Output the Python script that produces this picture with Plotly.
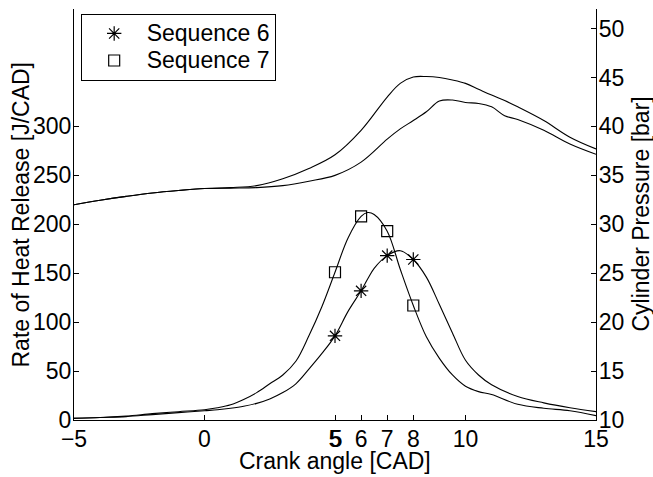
import plotly.graph_objects as go

# Crank angle grids [CAD]
cad_hrr = [-5, -4, -3, -2, -1, 0, 0.5, 1, 1.5, 2, 2.5, 3, 3.5, 4, 4.5, 5, 5.5, 6,
           6.25, 6.5, 7, 7.5, 8, 8.5, 9, 9.5, 10, 10.5, 11, 12, 13, 14, 15]
cad_p = [-5, -4, -3, -2, -1, 0, 1, 2, 3, 4, 5, 6, 7, 7.5, 8, 8.5, 9, 9.5, 10,
         10.5, 11, 11.5, 12, 13, 14, 15]

# Rate of heat release [J/CAD]
hrr_seq6 = [1.5, 2.5, 3.5, 5.5, 7.5, 9.5, 10.5, 12, 14, 17, 21.5, 28, 37, 52, 68, 86,
            111, 132, 144, 155, 168, 173, 164, 146, 118, 89, 61, 46, 36, 24, 17.5, 12.5, 8.5]
hrr_seq7 = [2, 2.5, 4, 6.5, 8.5, 10.5, 12.5, 15.5, 21, 28, 37, 46, 60, 86, 116, 151,
            186, 208, 212, 210, 193, 154, 117, 85, 63, 46, 34.5, 29, 26, 16, 12, 9.5, 4.5]

# Cylinder pressure [bar]
p_seq6 = [32.0, 32.45, 32.85, 33.2, 33.45, 33.65, 33.7, 33.75, 33.95, 34.4, 35.0, 36.35,
          38.7, 39.75, 40.6, 41.5, 42.6, 42.7, 42.45, 42.35, 42.0, 41.1, 40.7, 39.6, 38.2, 37.15]
p_seq7 = [32.0, 32.45, 32.85, 33.2, 33.45, 33.65, 33.75, 33.95, 34.65, 35.7, 37.1, 39.6,
          43.0, 44.4, 45.05, 45.1, 45.0, 44.75, 44.4, 43.8, 43.2, 42.65, 42.0, 40.6, 38.9, 37.7]

# Marker positions on the heat release curves
mark_cad = [5, 6, 7, 8]
mark_seq6 = [86, 132, 168, 164]
mark_seq7 = [151, 208, 193, 117]

FAMILY = "Liberation Sans, Arial, Helvetica, sans-serif"
FONT = dict(family=FAMILY, size=23, color="black")
LINE = dict(color="black", width=1.1)


def legend_label(txt):
    # full-size text inside a legend whose row height follows a smaller font
    return "<span style='font-size:23px'>" + txt + "</span>"


fig = go.Figure()

fig.add_trace(go.Scatter(x=cad_hrr, y=hrr_seq6, mode="lines", line=LINE,
                         line_shape="spline", showlegend=False, hoverinfo="skip"))
fig.add_trace(go.Scatter(x=cad_hrr, y=hrr_seq7, mode="lines", line=LINE,
                         line_shape="spline", showlegend=False, hoverinfo="skip"))
fig.add_trace(go.Scatter(x=cad_p, y=p_seq6, mode="lines", line=LINE, yaxis="y2",
                         line_shape="spline", showlegend=False, hoverinfo="skip"))
fig.add_trace(go.Scatter(x=cad_p, y=p_seq7, mode="lines", line=LINE, yaxis="y2",
                         line_shape="spline", showlegend=False, hoverinfo="skip"))

fig.add_trace(go.Scatter(x=mark_cad, y=mark_seq6, mode="markers",
                         name=legend_label("Sequence 6"),
                         marker=dict(symbol="asterisk-open", size=12, color="black",
                                     line=dict(color="black", width=1.2))))
fig.add_trace(go.Scatter(x=mark_cad, y=mark_seq7, mode="markers",
                         name=legend_label("Sequence 7"),
                         marker=dict(symbol="square-open", size=11, color="black",
                                     line=dict(color="black", width=1.2))))

# helper trace that keeps the secondary bottom axis alive
fig.add_trace(go.Scatter(x=[], y=[], xaxis="x3", showlegend=False, hoverinfo="skip"))

axis_common = dict(showgrid=False, zeroline=False, showline=True, linecolor="black",
                   linewidth=1.2, ticks="inside", ticklen=5, tickcolor="black",
                   tickwidth=1, tickfont=FONT)

fig.update_layout(
    width=653, height=477,
    margin=dict(l=74, r=57, t=9, b=57),
    paper_bgcolor="white", plot_bgcolor="white",
    font=FONT,
    xaxis=dict(range=[-5, 15], tickvals=[-5, 0, 5, 6, 7, 8, 10, 15],
               ticktext=["\u22125", "0", "5", "6", "7", "8", "10", "15"],
               mirror=False, ticklabelstandoff=-2, **axis_common),
    xaxis2=dict(range=[-5, 15], overlaying="x", side="top", anchor="y",
                tickvals=[-5, 0, 5, 10, 15], showticklabels=False, **axis_common),
    xaxis3=dict(range=[-5.04, 14.96], overlaying="x", side="bottom", anchor="y",
                tickvals=[5], ticktext=["5"], ticklabelstandoff=-2,
                **{**axis_common, "linecolor": "rgba(0,0,0,0)",
                   "tickcolor": "rgba(0,0,0,0)"}),
    yaxis=dict(range=[0, 420], tickvals=[0, 50, 100, 150, 200, 250, 300],
               mirror=False, ticklabelstandoff=-3, **axis_common),
    yaxis2=dict(range=[10, 52], overlaying="y", side="right", anchor="x",
                tickvals=[10, 15, 20, 25, 30, 35, 40, 45, 50],
                ticklabelstandoff=-3, **axis_common),
    legend=dict(x=0.0128, y=0.988, xanchor="left", yanchor="top",
                bgcolor="white", bordercolor="black", borderwidth=1,
                font=dict(family=FAMILY, size=18.5, color="black"),
                itemwidth=55, tracegroupgap=0),
    annotations=[
        dict(text="Crank angle [CAD]", xref="paper", yref="paper", x=0.5, y=-0.1,
             xanchor="center", yanchor="middle", showarrow=False, font=FONT),
        dict(text="Rate of Heat Release [J/CAD]", xref="paper", yref="paper",
             x=-0.1034, y=0.5, xanchor="center", yanchor="middle", textangle=-90,
             showarrow=False, font=FONT),
        dict(text="Cylinder Pressure [bar]", xref="paper", yref="paper",
             x=1.0843, y=0.5, xanchor="center", yanchor="middle", textangle=-90,
             showarrow=False, font=FONT),
    ],
)

fig.write_html("out.html")
